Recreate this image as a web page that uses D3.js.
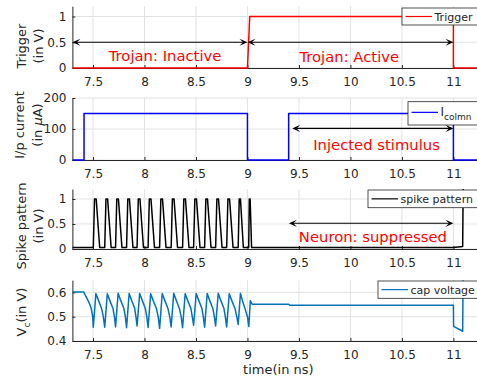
<!DOCTYPE html>
<html>
<head>
<meta charset="utf-8">
<script src="https://cdn.jsdelivr.net/npm/d3@7"></script>
<style>
  body { margin: 0; background: #fff; }
  svg { display: block; font-family: "DejaVu Sans", sans-serif; }
  .axis path, .axis line { stroke: #262626; }
  .axis text { fill: #262626; font-size: 12px; font-family: "DejaVu Sans", sans-serif; }
  .grid line { stroke: #e2e2e2; stroke-width: 1; }
</style>
</head>
<body>
<svg id="chart" width="477" height="379"></svg>
<script>
// ---- data ----
const xTicks = [7.5, 8, 8.5, 9, 9.5, 10, 10.5, 11];

const triggerT = [7.3, 9.0, 9.022, 11.0, 11.0, 11.3];
const triggerV = [0, 0, 1, 1, 0, 0];

const currentT = [7.3, 7.413, 7.413, 9.0, 9.0, 9.40, 9.40, 11.0, 11.0, 11.3];
const currentV = [0, 0, 150, 150, 0, 0, 150, 150, 0, 0];

const spikeT = [7.30,
  7.503, 7.515, 7.531, 7.565,
  7.614, 7.626, 7.642, 7.676,
  7.719, 7.731, 7.747, 7.781,
  7.826, 7.838, 7.854, 7.888,
  7.928, 7.940, 7.956, 7.990,
  8.035, 8.047, 8.063, 8.097,
  8.147, 8.159, 8.175, 8.209,
  8.259, 8.271, 8.287, 8.321,
  8.370, 8.382, 8.398, 8.432,
  8.477, 8.489, 8.505, 8.539,
  8.584, 8.596, 8.612, 8.646,
  8.691, 8.703, 8.719, 8.753,
  8.798, 8.810, 8.826, 8.860,
  8.910, 8.920, 8.932, 8.960,
  9.012, 9.018, 9.026, 9.040,
  11.00, 11.09, 11.095];
const spikeV = [0.03,
  0.03, 1, 1, 0.03,
  0.03, 1, 1, 0.03,
  0.03, 1, 1, 0.03,
  0.03, 1, 1, 0.03,
  0.03, 1, 1, 0.03,
  0.03, 1, 1, 0.03,
  0.03, 1, 1, 0.03,
  0.03, 1, 1, 0.03,
  0.03, 1, 1, 0.03,
  0.03, 1, 1, 0.03,
  0.03, 1, 1, 0.03,
  0.03, 1, 1, 0.03,
  0.03, 1, 1, 0.03,
  0.03, 1, 1, 0.03,
  0.03, 1, 1, 0.03,
  0.03, 0.05, 1.3];

const capT = [7.30, 7.41, 7.44, 7.465, 7.482, 7.497, 7.503,
  7.528, 7.553, 7.583, 7.600, 7.614,
  7.639, 7.664, 7.694, 7.708, 7.719,
  7.744, 7.769, 7.799, 7.814, 7.826,
  7.851, 7.876, 7.904, 7.917, 7.928,
  7.953, 7.978, 8.008, 8.022, 8.035,
  8.060, 8.085, 8.115, 8.133, 8.147,
  8.172, 8.197, 8.227, 8.245, 8.259,
  8.284, 8.309, 8.339, 8.356, 8.370,
  8.395, 8.420, 8.450, 8.464, 8.477,
  8.502, 8.527, 8.557, 8.571, 8.584,
  8.609, 8.634, 8.664, 8.678, 8.691,
  8.716, 8.741, 8.771, 8.785, 8.798,
  8.823, 8.848, 8.878, 8.896, 8.910,
  8.932, 8.955, 8.980, 9.000, 9.013,
  9.028, 9.045, 9.40, 9.41, 11.0, 11.002, 11.09, 11.095];
const capV = [0.601, 0.601, 0.576, 0.555, 0.535, 0.50, 0.457,
  0.595, 0.567, 0.535, 0.50, 0.457,
  0.594, 0.566, 0.534, 0.50, 0.458,
  0.596, 0.567, 0.535, 0.50, 0.455,
  0.595, 0.566, 0.536, 0.50, 0.462,
  0.595, 0.567, 0.534, 0.50, 0.456,
  0.594, 0.566, 0.535, 0.50, 0.452,
  0.595, 0.567, 0.535, 0.50, 0.458,
  0.596, 0.567, 0.534, 0.50, 0.455,
  0.594, 0.566, 0.535, 0.50, 0.465,
  0.595, 0.567, 0.535, 0.50, 0.457,
  0.595, 0.566, 0.534, 0.50, 0.462,
  0.596, 0.567, 0.535, 0.50, 0.458,
  0.594, 0.566, 0.535, 0.50, 0.468,
  0.596, 0.560, 0.528, 0.50, 0.460,
  0.566, 0.551, 0.551, 0.547, 0.547, 0.46, 0.44, 0.70];

// ---- layout ----
const svg = d3.select('#chart');
const x = d3.scaleLinear().domain([7.3, 11.3]).range([72.4, 484.3]);

const panels = [
  { domain: [0, 1.2], range: [68, 6.2], ticks: [0, 0.5, 1], t: triggerT, v: triggerV, color: '#ff0000',
    labelY: 46, legend: { x: 402, y: 8, h: 17, text: 'Trigger' } },
  { domain: [0, 200], range: [160, 98], ticks: [0, 100, 200], t: currentT, v: currentV, color: '#0000ff',
    labelY: 125, legend: { x: 408, y: 101.7, h: 23.3, text: null } },
  { domain: [0, 1.2], range: [249, 189], ticks: [0, 0.5, 1], t: spikeT, v: spikeV, color: '#000000',
    labelY: 226, legend: { x: 368, y: 190, h: 17.7, text: 'spike pattern' } },
  { domain: [0.4, 0.65], range: [341, 280.2], ticks: [0.4, 0.5, 0.6], t: capT, v: capV, color: '#0072bd',
    labelY: 312, legend: { x: 378, y: 281, h: 17.3, text: 'cap voltage' } }
];

const arrows = [
  { p: 0, x1: 7.3, x2: 9.0, y: 0.5 },
  { p: 0, x1: 9.0, x2: 11.0, y: 0.5 },
  { p: 1, x1: 9.435, x2: 11.0, y: 102 },
  { p: 2, x1: 9.403, x2: 11.0, y: 0.514 }
];
const notes = [
  { p: 0, text: 'Trojan: Inactive', t: 8.2, v: 0.13 },
  { p: 0, text: 'Trojan: Active', t: 9.989, v: 0.117 },
  { p: 1, text: 'Injected stimulus', t: 10.254, v: 32 },
  { p: 2, text: 'Neuron: suppressed', t: 10.218, v: 0.146 }
];

const defs = svg.append('defs');

panels.forEach((p, i) => {
  const y = d3.scaleLinear().domain(p.domain).range(p.range);
  p.y = y;
  const g = svg.append('g');

  // grid
  const grid = g.append('g').attr('class', 'grid');
  grid.selectAll('.gx').data(xTicks).join('line')
    .attr('x1', d => x(d)).attr('x2', d => x(d))
    .attr('y1', p.range[0]).attr('y2', p.range[1]);
  grid.selectAll('.gy').data(p.ticks).join('line')
    .attr('x1', x.range()[0]).attr('x2', x.range()[1])
    .attr('y1', d => y(d)).attr('y2', d => y(d));

  // axes
  g.append('g').attr('class', 'axis')
    .attr('transform', `translate(0,${p.range[0]})`)
    .call(d3.axisBottom(x).tickValues(xTicks).tickSize(-3).tickSizeOuter(0).tickPadding(9).tickFormat(d3.format('')));
  g.append('g').attr('class', 'axis')
    .attr('transform', `translate(${x.range()[0]},0)`)
    .call(d3.axisLeft(y).tickValues(p.ticks).tickSize(-3).tickSizeOuter(0).tickPadding(6).tickFormat(d3.format('')));

  // data line
  defs.append('clipPath').attr('id', 'clip' + i).append('rect')
    .attr('x', x.range()[0]).attr('y', p.range[1])
    .attr('width', x.range()[1] - x.range()[0]).attr('height', p.range[0] - p.range[1] + 2);
  const pts = p.t.map((t, k) => [t, p.v[k]]);
  g.append('path')
    .attr('clip-path', `url(#clip${i})`)
    .attr('d', d3.line().x(d => x(d[0])).y(d => y(d[1]))(pts))
    .attr('fill', 'none').attr('stroke', p.color).attr('stroke-width', 1.5)
    .attr('stroke-linejoin', 'round');
});

// y labels
function rotLabel(cx, cy) {
  return svg.append('text')
    .attr('transform', `translate(${cx},${cy}) rotate(-90)`)
    .attr('text-anchor', 'middle').attr('dy', '0.35em')
    .attr('font-size', 13).attr('fill', '#262626');
}
rotLabel(21, panels[0].labelY).text('Trigger');
rotLabel(38, panels[0].labelY).text('(in V)');
rotLabel(19.5, panels[1].labelY).text('I/p current');
const l2 = rotLabel(37.5, panels[1].labelY);
l2.append('tspan').text('(in ');
l2.append('tspan').attr('font-style', 'italic').text('\u03bc');
l2.append('tspan').text('A)');
rotLabel(21, panels[2].labelY).text('Spike pattern');
rotLabel(38, panels[2].labelY).text('(in V)');
const l4 = rotLabel(21, panels[3].labelY);
l4.append('tspan').text('V');
l4.append('tspan').attr('font-size', 9).attr('dy', 4).text('c');
l4.append('tspan').attr('dy', -4).text('(in V)');

svg.append('text').attr('x', (x.range()[0] + x.range()[1]) / 2).attr('y', 374)
  .attr('text-anchor', 'middle').attr('font-size', 13).attr('fill', '#262626').text('time(in ns)');

// arrows
function head(px, py, dir) {
  const L = 8, W = 3.6;
  return `M${px},${py} L${px - dir * L},${py - W} L${px - dir * L * 0.55},${py} L${px - dir * L},${py + W} Z`;
}
arrows.forEach(a => {
  const y = panels[a.p].y;
  const x1 = x(a.x1), x2 = x(a.x2), yy = y(a.y);
  svg.append('line').attr('x1', x1 + 2).attr('x2', x2 - 2).attr('y1', yy).attr('y2', yy)
    .attr('stroke', '#000').attr('stroke-width', 1.1);
  svg.append('path').attr('d', head(x1, yy, -1)).attr('fill', '#000');
  svg.append('path').attr('d', head(x2, yy, 1)).attr('fill', '#000');
});

notes.forEach(n => {
  svg.append('text').attr('x', x(n.t)).attr('y', panels[n.p].y(n.v))
    .attr('text-anchor', 'middle').attr('font-size', 14.8).attr('fill', '#ff0000').text(n.text);
});

// legends
panels.forEach((p, i) => {
  const L = p.legend;
  const g = svg.append('g');
  g.append('rect').attr('x', L.x).attr('y', L.y).attr('width', 110).attr('height', L.h)
    .attr('fill', '#fff').attr('stroke', '#262626').attr('stroke-width', 0.8);
  const cy = L.y + L.h / 2 + (i === 1 ? -1 : 0);
  g.append('line').attr('x1', L.x + 3.5).attr('x2', L.x + 30).attr('y1', cy).attr('y2', cy)
    .attr('stroke', p.color).attr('stroke-width', 1.2);
  const t = g.append('text').attr('x', L.x + 32.5).attr('y', cy + 4)
    .attr('font-size', 11).attr('fill', '#262626');
  if (L.text) {
    t.text(L.text);
  } else {
    t.append('tspan').attr('font-size', 12).text('I');
    t.append('tspan').attr('font-size', 9).attr('dy', 4).text('colmn');
  }
});
</script>
</body>
</html>
